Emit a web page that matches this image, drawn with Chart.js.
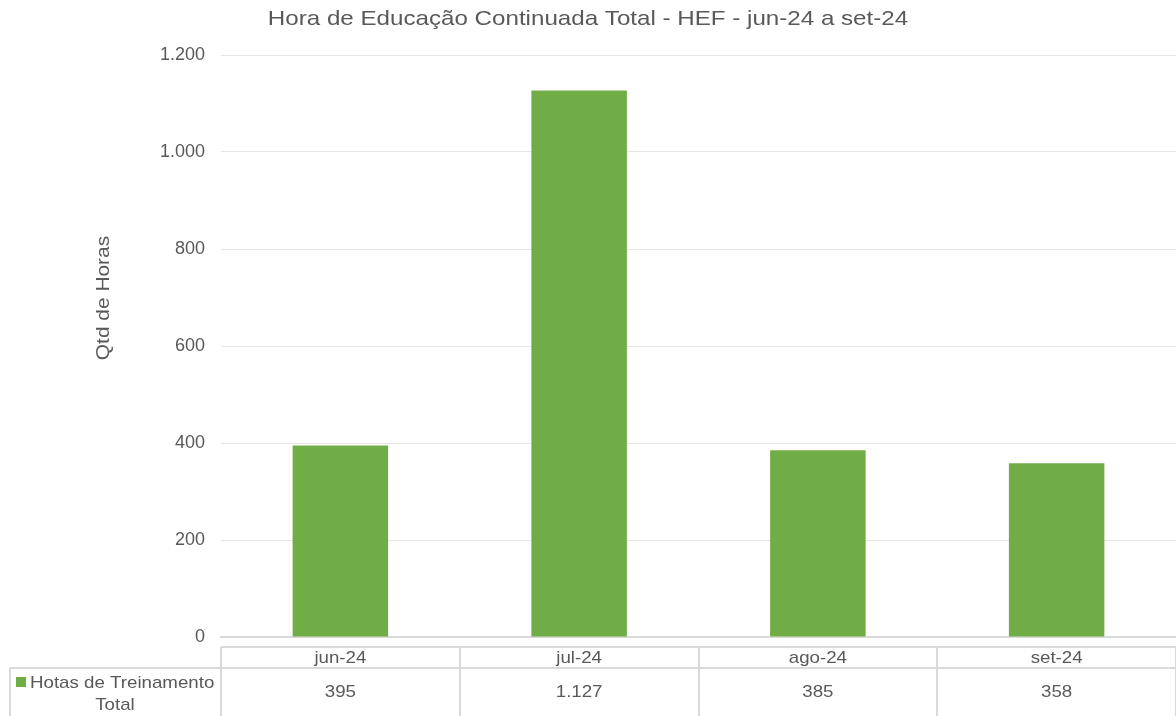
<!DOCTYPE html>
<html>
<head>
<meta charset="utf-8">
<script src="https://cdn.jsdelivr.net/npm/chart.js@4.4.1/dist/chart.umd.min.js"></script>
<style>
  html, body { margin: 0; padding: 0; background: #fff; }
  #wrap { width: 1176px; height: 716px; position: relative; }
</style>
</head>
<body>
<div id="wrap"><canvas id="grafico"></canvas></div>
<script>
const meses = ['jun-24', 'jul-24', 'ago-24', 'set-24'];
const horas = [395, 1127, 385, 358];
const serieNome = ['Hotas de Treinamento', 'Total'];
const titulo = 'Hora de Educação Continuada Total - HEF - jun-24 a set-24';
const eixoY = 'Qtd de Horas';

const cinza = '#595959';
const verde = '#70AD47';
const linha = '#d9d9d9';
const fonte = '"Liberation Sans", Arial, sans-serif';

function fmt(v) {
  return String(v).replace(/\B(?=(\d{3})+(?!\d))/g, '.');
}

// texto levemente esticado na horizontal
function texto(ctx, s, x, y, sx) {
  ctx.save();
  ctx.translate(x, y);
  ctx.scale(sx, 1);
  ctx.fillText(s, 0, 0);
  ctx.restore();
}

// titulo, titulo do eixo e tabela de dados abaixo do grafico
const extras = {
  id: 'extras',
  afterDraw(chart) {
    const ctx = chart.ctx;
    const x = chart.scales.x;
    const area = chart.chartArea;
    ctx.save();
    ctx.fillStyle = cinza;
    ctx.textAlign = 'center';
    ctx.textBaseline = 'middle';
    ctx.font = '21px ' + fonte;
    texto(ctx, titulo, 588, 19, 1.15);

    ctx.save();
    ctx.translate(104, 298);
    ctx.rotate(-Math.PI / 2);
    ctx.font = '19px ' + fonte;
    texto(ctx, eixoY, 0, 0, 1.1);
    ctx.restore();

    // tabela
    const step = (x.getPixelForValue(1) - x.getPixelForValue(0));
    const left = area.left;
    const right = area.right;
    const yTop = 647, yMid = 668, yBot = 716;
    ctx.strokeStyle = linha;
    ctx.lineWidth = 2;
    ctx.beginPath();
    ctx.moveTo(left, yTop); ctx.lineTo(right, yTop);
    ctx.moveTo(10, yMid); ctx.lineTo(right, yMid);
    ctx.moveTo(10, yMid); ctx.lineTo(10, yBot);
    for (let i = 0; i <= meses.length; i++) {
      const px = Math.round(x.getPixelForValue(i) - step / 2);
      ctx.moveTo(px, yTop); ctx.lineTo(px, yBot);
    }
    ctx.stroke();

    ctx.font = '17px ' + fonte;
    meses.forEach((m, i) => {
      const cx = x.getPixelForValue(i);
      texto(ctx, m, cx, 658, 1.1);
      texto(ctx, fmt(horas[i]), cx, 692, 1.1);
    });

    // legenda da serie
    ctx.fillStyle = verde;
    ctx.fillRect(16, 677, 10, 10);
    ctx.fillStyle = cinza;
    ctx.textAlign = 'left';
    texto(ctx, serieNome[0], 30, 683, 1.1);
    ctx.textAlign = 'center';
    texto(ctx, serieNome[1], 115, 705, 1.1);
    ctx.restore();
  }
};

new Chart(document.getElementById('grafico'), {
  type: 'bar',
  data: {
    labels: meses,
    datasets: [{
      label: serieNome.join(' '),
      data: horas,
      backgroundColor: verde,
      categoryPercentage: 1,
      barPercentage: 0.4
    }]
  },
  options: {
    responsive: true,
    maintainAspectRatio: false,
    animation: false,
    layout: { padding: { top: 55, bottom: 71, left: 0, right: 0 } },
    plugins: {
      legend: { display: false },
      tooltip: { enabled: false }
    },
    scales: {
      x: {
        ticks: { display: false },
        grid: { display: false },
        border: { color: linha, width: 2 }
      },
      y: {
        min: 0,
        max: 1200,
        afterFit(scale) { scale.width = 221; },
        ticks: {
          stepSize: 200,
          padding: 16,
          color: cinza,
          font: { family: fonte, size: 18 },
          callback: v => fmt(v)
        },
        grid: { color: '#e6e6e6', drawTicks: false },
        border: { display: false }
      }
    }
  },
  plugins: [extras]
});
</script>
</body>
</html>
